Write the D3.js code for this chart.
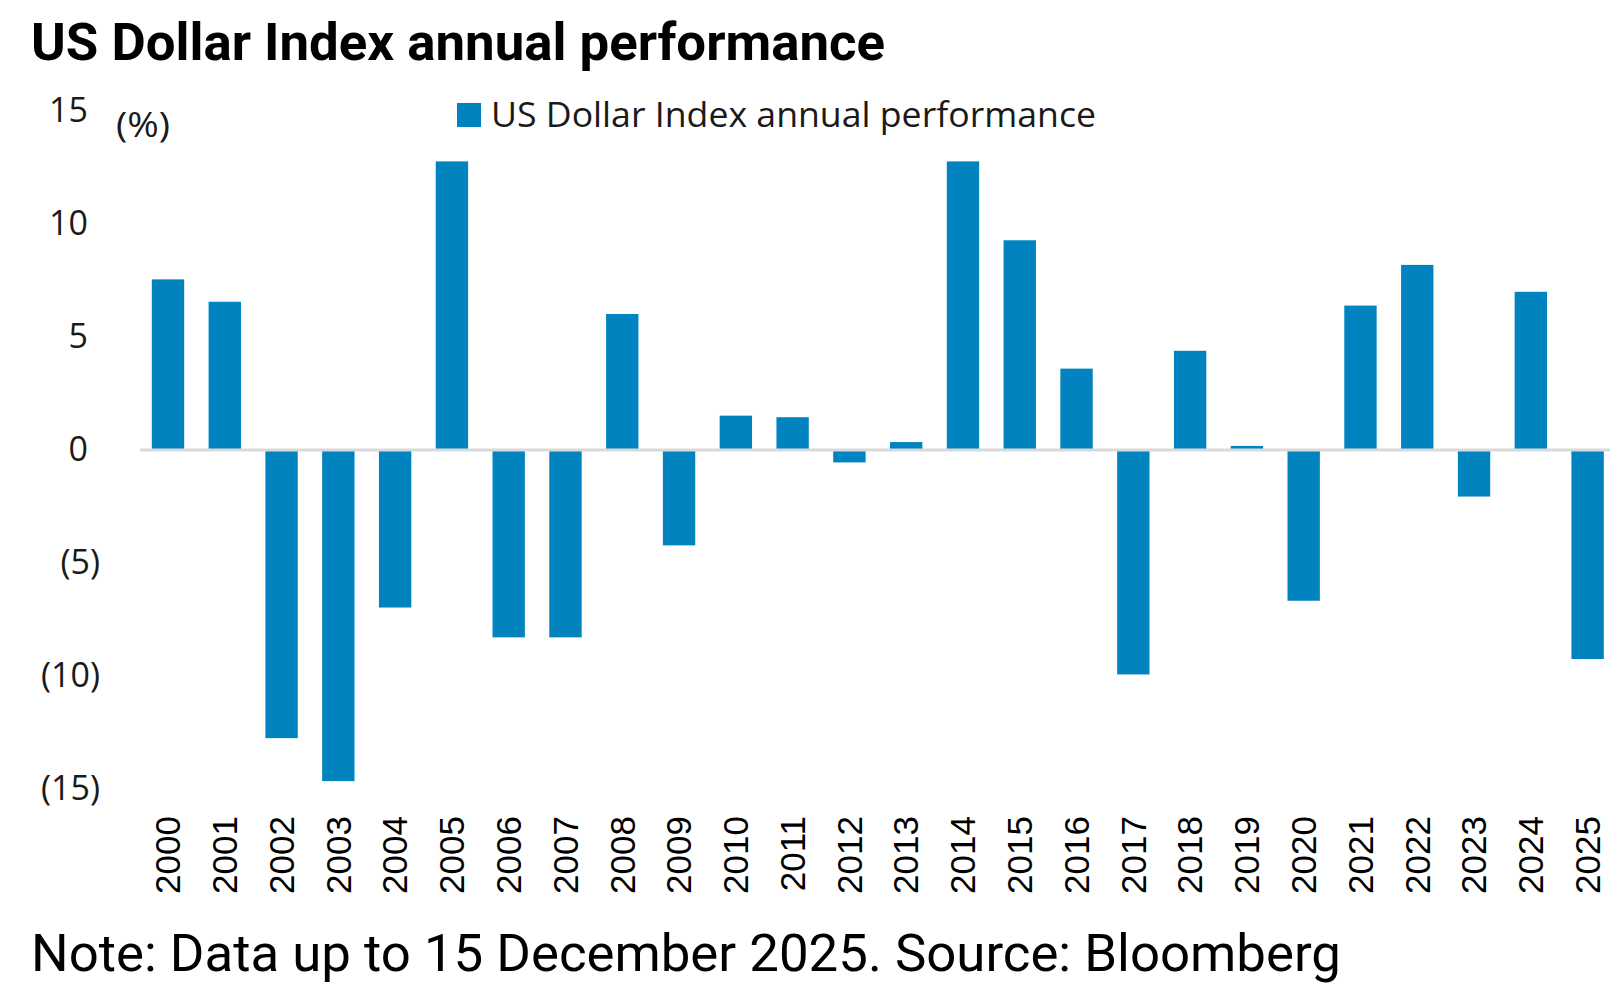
<!DOCTYPE html>
<html>
<head>
<meta charset="utf-8">
<script src="https://cdn.jsdelivr.net/npm/d3@7"></script>
<style>
  html, body { margin: 0; padding: 0; background: #fff; }
  svg { display: block; }
</style>
</head>
<body>
<svg id="chart"></svg>
<script>
// Chart data
const years = ["2000", "2001", "2002", "2003", "2004", "2005", "2006", "2007", "2008", "2009",
  "2010", "2011", "2012", "2013", "2014", "2015", "2016", "2017", "2018", "2019",
  "2020", "2021", "2022", "2023", "2024", "2025"];
const performance = [7.55, 6.56, -12.75, -14.65, -6.97, 12.77, -8.29, -8.29, 6.02, -4.22,
  1.52, 1.45, -0.55, 0.35, 12.77, 9.28, 3.6, -9.93, 4.39, 0.18,
  -6.67, 6.39, 8.19, -2.06, 7.0, -9.25];
const yTicks = [15, 10, 5, 0, -5, -10, -15];

const titleText = "US Dollar Index annual performance";
const seriesName = "US Dollar Index annual performance";
const unitText = "(%)";
const noteText = "Note: Data up to 15 December 2025. Source: Bloomberg";

const width = 1610;
const height = 1000;
const barColor = "#0083bf";

const svg = d3.select("#chart")
  .attr("width", width)
  .attr("height", height);

// Scales
const x = d3.scaleBand()
  .domain(years)
  .range([139.6, 1616])
  .paddingInner(0.43)
  .paddingOuter(0.215);

const y = d3.scaleLinear()
  .domain([-15, 15])
  .range([789, 111]);

// Title
svg.append("text")
  .attr("x", 31)
  .attr("y", 60)
  .attr("font-family", "Roboto")
  .attr("font-weight", "bold")
  .attr("font-size", 52)
  .attr("textLength", 854)
  .attr("lengthAdjust", "spacingAndGlyphs")
  .attr("fill", "#000")
  .text(titleText);

// Bars
svg.append("g")
  .selectAll("rect")
  .data(performance)
  .enter()
  .append("rect")
  .attr("x", (d, i) => x(years[i]))
  .attr("width", x.bandwidth())
  .attr("y", d => Math.min(y(d), y(0)))
  .attr("height", d => Math.abs(y(d) - y(0)))
  .attr("fill", barColor);

// Zero line
svg.append("line")
  .attr("x1", 140)
  .attr("x2", width)
  .attr("y1", y(0))
  .attr("y2", y(0))
  .attr("stroke", "#d9d9d9")
  .attr("stroke-width", 3);

// Y axis, negatives in brackets
const yAxis = svg.append("g")
  .attr("transform", "translate(100,0)")
  .call(d3.axisLeft(y)
    .tickValues(yTicks)
    .tickSize(0)
    .tickPadding(0)
    .tickFormat(d => d < 0 ? `(${-d})` : `${d}`));

yAxis.select(".domain").remove();
yAxis.selectAll("text")
  .attr("font-family", "Open Sans")
  .attr("font-size", 34)
  .attr("fill", "#1a1a1a")
  .attr("x", d => d < 0 ? 0 : -12);

// Unit label
svg.append("text")
  .attr("x", 116)
  .attr("y", 125)
  .attr("dy", "0.35em")
  .attr("font-family", "Open Sans")
  .attr("font-size", 35)
  .attr("textLength", 54)
  .attr("lengthAdjust", "spacingAndGlyphs")
  .attr("fill", "#1a1a1a")
  .text(unitText);

// X axis with rotated year labels
const xAxis = svg.append("g")
  .attr("transform", "translate(0,800)")
  .call(d3.axisBottom(x).tickSize(0));

xAxis.select(".domain").remove();
xAxis.selectAll("text")
  .attr("font-family", "Liberation Sans, Arial")
  .attr("font-size", 35)
  .attr("fill", "#000")
  .attr("transform", "rotate(-90)")
  .attr("x", -16)
  .attr("y", 0)
  .attr("dy", "0.35em")
  .attr("text-anchor", "end");

// Legend
const legend = svg.append("g").attr("transform", "translate(457,103)");
legend.append("rect")
  .attr("width", 24)
  .attr("height", 24)
  .attr("fill", barColor);
legend.append("text")
  .attr("x", 34)
  .attr("y", 12)
  .attr("dy", "0.35em")
  .attr("font-family", "Open Sans")
  .attr("font-size", 34)
  .attr("textLength", 605)
  .attr("lengthAdjust", "spacingAndGlyphs")
  .attr("fill", "#1a1a1a")
  .text(seriesName);

// Footnote
svg.append("text")
  .attr("x", 31)
  .attr("y", 971)
  .attr("font-family", "Roboto")
  .attr("font-size", 52)
  .attr("textLength", 1310)
  .attr("lengthAdjust", "spacingAndGlyphs")
  .attr("fill", "#000")
  .text(noteText);
</script>
</body>
</html>
